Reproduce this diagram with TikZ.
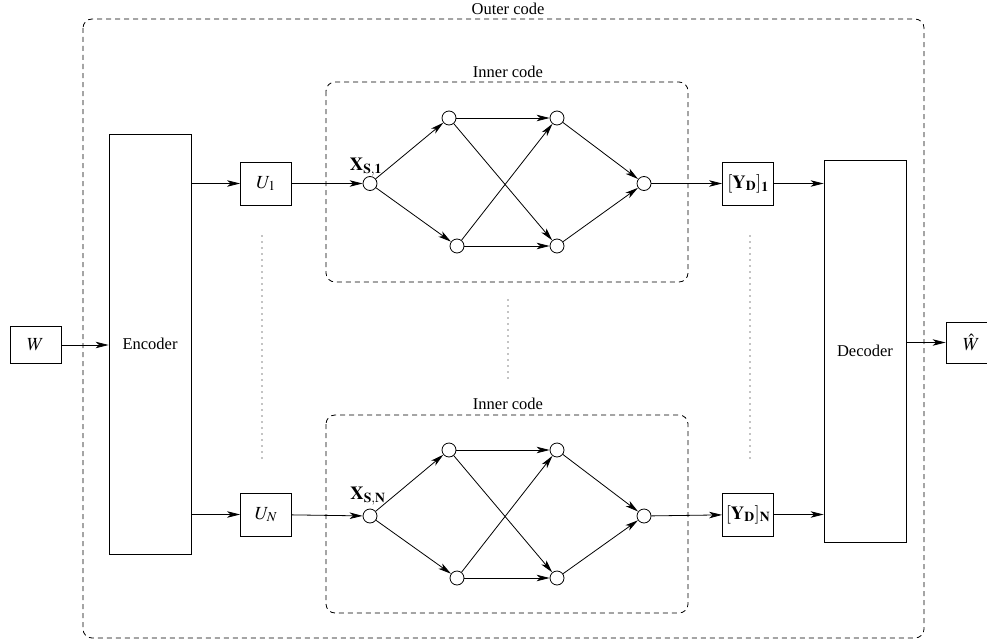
\documentclass[tikz,border=0pt]{standalone}
\usepackage{mathptmx}
\usepackage[no-math]{fontspec}
\setmainfont{Liberation Serif}
\usetikzlibrary{arrows.meta}
\begin{document}
\begin{tikzpicture}[x=1pt,y=-1pt,
  font=\fontsize{16.5}{19}\selectfont,
  every path/.style={line width=0.8pt},
  arr/.style={-{Stealth[length=13pt,width=6.5pt,inset=3.5pt]}},
  mth/.style={font=\fontsize{18.5}{21}\selectfont},
  sbox/.style={draw,inner sep=0pt,minimum width=51pt,minimum height=43pt,mth},
  bigbox/.style={draw,inner sep=0pt,minimum width=82pt},
  vtx/.style={draw,circle,inner sep=0pt,minimum size=14pt},
  dashbox/.style={dash pattern=on 5pt off 4pt,rounded corners=9pt},
  dotline/.style={line cap=round,dash pattern=on 0pt off 6pt,line width=1.4pt},
  lbl/.style={inner sep=0pt}]
\useasboundingbox (0,0) rectangle (987,642);
% outer code
\draw[dashbox] (83,19) rectangle (924,638);
\node[lbl] (outerlbl) at (508,9) {Outer code};
% W and encoder
\node[draw,inner sep=0pt,minimum width=51pt,minimum height=37pt,mth] (W) at (35.5,345) {$W$};
\node[bigbox,minimum height=420pt] (enc) at (150,344) {Encoder};
\draw[arr] (W.east) -- (W.east -| enc.west);
% U boxes
\node[sbox] (U1) at (266,183.5) {$U_1$};
\node[sbox] (UN) at (266,514.5) {$U_N$};
\draw[arr] (U1.west -| enc.east) -- (U1.west);
\draw[arr] (UN.west -| enc.east) -- (UN.west);
% inner code boxes
\draw[dashbox] (326,82) rectangle (688,282);
\node[lbl] (inner1) at (508,72) {Inner code};
\draw[dashbox] (326,415) rectangle (688,613);
\node[lbl] (innerN) at (508,404) {Inner code};
% top network
\node[vtx] (a1) at (370,183.5) {};
\node[vtx] (b1) at (449,118) {};
\node[vtx] (c1) at (457,246) {};
\node[vtx] (d1) at (557,118) {};
\node[vtx] (e1) at (557,246) {};
\node[vtx] (f1) at (644,183.5) {};
\node[lbl,mth] (xs1) at (366,167) {$\mathbf{X}_{\mathbf{S},\mathbf{1}}$};
\draw[arr] (U1) -- (a1);
\draw[arr] (a1) -- (b1);
\draw[arr] (a1) -- (c1);
\draw[arr] (b1) -- (d1);
\draw[arr] (b1) -- (e1);
\draw[arr] (c1) -- (d1);
\draw[arr] (c1) -- (e1);
\draw[arr] (d1) -- (f1);
\draw[arr] (e1) -- (f1);
% bottom network
\node[vtx] (aN) at (370,516) {};
\node[vtx] (bN) at (449,450) {};
\node[vtx] (cN) at (457,578) {};
\node[vtx] (dN) at (557,450) {};
\node[vtx] (eN) at (557,578) {};
\node[vtx] (fN) at (644,516) {};
\node[lbl,mth] (xsN) at (368,496) {$\mathbf{X}_{\mathbf{S},\mathbf{N}}$};
\draw[arr] (UN) -- (aN);
\draw[arr] (aN) -- (bN);
\draw[arr] (aN) -- (cN);
\draw[arr] (bN) -- (dN);
\draw[arr] (bN) -- (eN);
\draw[arr] (cN) -- (dN);
\draw[arr] (cN) -- (eN);
\draw[arr] (dN) -- (fN);
\draw[arr] (eN) -- (fN);
% Y boxes and decoder
\node[sbox] (Y1) at (748,183.5) {$[\mathbf{Y}_{\mathbf{D}}]_{\mathbf{1}}$};
\node[sbox] (YN) at (748,514.5) {$[\mathbf{Y}_{\mathbf{D}}]_{\mathbf{N}}$};
\draw[arr] (f1) -- (Y1);
\draw[arr] (fN) -- (YN);
\node[bigbox,minimum height=382pt] (dec) at (865,351) {Decoder};
\draw[arr] (Y1.east) -- (Y1.east -| dec.west);
\draw[arr] (YN.east) -- (YN.east -| dec.west);
\node[draw,inner sep=0pt,minimum width=51pt,minimum height=41pt,mth] (What) at (971.5,342.5) {$\hat{W}$};
\draw[arr] (What.west -| dec.east) -- (What.west);
% dotted lines
\coordinate (l1) at (262,236);
\coordinate (l2) at (262,462);
\coordinate (m1) at (508,300);
\coordinate (m2) at (508,382);
\coordinate (r1) at (750,236);
\coordinate (r2) at (750,462);
\draw[dotline] (l1) -- (l2);
\draw[dotline] (m1) -- (m2);
\draw[dotline] (r1) -- (r2);
\end{tikzpicture}
\end{document}
